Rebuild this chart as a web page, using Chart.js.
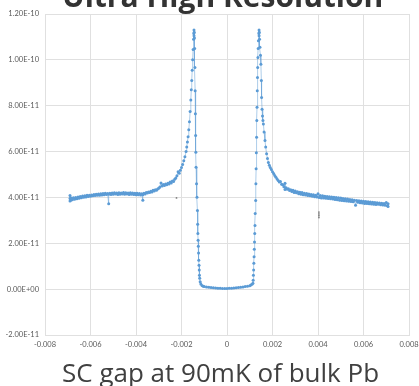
<!DOCTYPE html>
<html>
<head>
<meta charset="utf-8">
<script src="https://cdn.jsdelivr.net/npm/chart.js@4"></script>
<style>
  html, body { margin: 0; padding: 0; background: #fff; overflow: hidden; }
  #wrap { position: relative; width: 419px; height: 386px; }
  #c { position: absolute; left: 0; top: 0; }
  #title { position: absolute; left: 62px; top: -25px; font: bold 30px "Open Sans"; color: #333; white-space: nowrap; }
  #caption { position: absolute; left: 62px; top: 354px; font: 26px "Open Sans"; color: #404040; white-space: nowrap; }
</style>
</head>
<body>
<div id="wrap">
  <canvas id="c" width="419" height="386"></canvas>
  <div id="title">Ultra High Resolution</div>
  <div id="caption">SC gap at 90mK of bulk Pb</div>
</div>
<script>
// bias in mV, current in units of 1e-11 (tick labels convert back)
const xTicks = [-8, -6, -4, -2, 0, 2, 4, 6, 8];
const yTicks = [-2, 0, 2, 4, 6, 8, 10, 12];

// negative bias background + outer side of left coherence peak
const leftBias = [
  -6.90,-6.90,-6.90,-6.87,-6.84,-6.80,-6.75,-6.70,-6.65,-6.60,
  -6.55,-6.50,-6.45,-6.40,-6.35,-6.30,-6.25,-6.20,-6.15,-6.10,
  -6.05,-6.00,-5.95,-5.90,-5.85,-5.80,-5.75,-5.70,-5.65,-5.60,
  -5.55,-5.50,-5.45,-5.40,-5.35,-5.30,-5.25,-5.20,-5.20,-5.15,
  -5.10,-5.05,-5.00,-4.95,-4.90,-4.85,-4.80,-4.75,-4.70,-4.65,
  -4.60,-4.55,-4.50,-4.45,-4.40,-4.35,-4.30,-4.25,-4.20,-4.15,
  -4.10,-4.05,-4.00,-3.95,-3.90,-3.85,-3.80,-3.75,-3.70,-3.70,
  -3.65,-3.60,-3.55,-3.50,-3.45,-3.40,-3.35,-3.30,-3.25,-3.20,
  -3.15,-3.10,-3.05,-3.00,-2.95,-2.90,-2.85,-2.80,-2.75,-2.70,
  -2.65,-2.60,-2.55,-2.50,-2.45,-2.40,-2.35,-2.30,-2.25,-2.20,
  -2.15,-2.10,-2.05,-2.00,-1.95,-1.90,-1.85,-1.80,-1.77,-1.74,
  -1.71,-1.68,-1.65,-1.62,-1.59,-1.57,-1.55,-1.53,-1.51,-1.49,
  -1.47,-1.46,-1.45,-1.45,-1.44,-1.43
];
const leftCurrent = [
  4.08,3.84,3.95,3.88,3.97,3.90,3.99,3.92,4.00,3.94,
  4.02,3.96,4.04,3.99,4.06,4.01,4.07,4.02,4.09,4.04,
  4.10,4.05,4.11,4.07,4.13,4.08,4.14,4.09,4.15,4.10,
  4.16,4.11,4.17,4.12,4.18,4.13,4.17,3.72,4.14,4.18,
  4.13,4.19,4.14,4.20,4.15,4.19,4.13,4.20,4.14,4.19,
  4.15,4.21,4.14,4.20,4.15,4.19,4.13,4.20,4.14,4.19,
  4.13,4.18,4.12,4.18,4.12,4.17,4.11,4.16,3.88,4.12,
  4.18,4.15,4.21,4.19,4.24,4.21,4.27,4.24,4.31,4.28,
  4.34,4.31,4.37,4.40,4.46,4.63,4.50,4.56,4.52,4.59,
  4.55,4.62,4.59,4.67,4.63,4.72,4.69,4.79,4.85,4.95,
  5.12,5.05,5.18,5.30,5.44,5.60,5.77,6.00,6.20,6.42,
  6.65,6.95,7.30,7.75,8.25,8.70,9.10,9.55,10.00,10.45,
  10.90,11.15,11.30,11.05,11.20,10.95
];

// inside the gap: both inner flanks and the flat bottom
const gapBias = [
  -1.42,-1.41,-1.40,-1.39,-1.38,-1.37,-1.36,-1.34,-1.32,-1.30,
  -1.29,-1.28,-1.27,-1.26,-1.25,-1.24,-1.23,-1.22,-1.21,-1.20,
  -1.18,-1.15,-1.10,-1.05,-1.00,-0.90,-0.80,-0.70,-0.60,-0.50,
  -0.40,-0.30,-0.20,-0.10,0.00,0.10,0.20,0.30,0.40,0.50,
  0.60,0.70,0.80,0.90,1.00,1.05,1.10,1.14,1.15,1.16,
  1.17,1.18,1.19,1.20,1.21,1.22,1.23,1.24,1.26,1.27,
  1.28,1.29,1.30,1.31,1.32,1.33,1.34,1.35,1.36,1.37,
  1.38,1.40,1.41,1.41,1.42,1.43
];
const gapCurrent = [
  10.50,9.67,8.65,7.65,6.70,5.97,5.32,4.60,4.01,3.43,
  2.83,2.43,2.13,1.87,1.58,1.26,1.04,0.83,0.61,0.48,
  0.32,0.22,0.16,0.13,0.11,0.09,0.08,0.07,0.06,0.05,
  0.04,0.04,0.03,0.03,0.03,0.04,0.04,0.05,0.06,0.07,
  0.08,0.09,0.11,0.13,0.15,0.18,0.21,0.26,0.39,0.61,
  0.83,1.13,1.41,1.74,2.06,2.43,2.78,3.30,3.87,4.60,
  5.25,5.95,6.62,7.35,7.93,8.65,9.23,9.67,10.10,10.50,
  10.83,11.15,11.30,11.05,11.20,10.90
];

// outer side of right coherence peak + positive bias background
const rightBias = [
  1.45,1.47,1.49,1.51,1.52,1.54,1.56,1.58,1.60,1.63,
  1.67,1.70,1.74,1.78,1.82,1.86,1.90,1.95,2.00,2.05,
  2.10,2.15,2.20,2.25,2.30,2.35,2.40,2.45,2.50,2.55,
  2.55,2.60,2.65,2.70,2.75,2.80,2.85,2.90,2.95,3.00,
  3.05,3.10,3.15,3.20,3.25,3.30,3.35,3.40,3.45,3.50,
  3.55,3.60,3.65,3.70,3.75,3.80,3.85,3.90,3.95,4.00,
  4.05,4.10,4.15,4.20,4.25,4.30,4.35,4.40,4.45,4.50,
  4.55,4.60,4.65,4.70,4.75,4.80,4.85,4.90,4.95,5.00,
  5.05,5.10,5.15,5.20,5.25,5.30,5.35,5.40,5.45,5.50,
  5.55,5.60,5.65,5.70,5.75,5.80,5.85,5.90,5.95,6.00,
  6.05,6.10,6.15,6.20,6.25,6.30,6.35,6.40,6.45,6.50,
  6.55,6.60,6.65,6.70,6.75,6.80,6.85,6.90,6.95,7.00,
  7.05,7.08,7.08
];
const rightCurrent = [
  10.55,10.20,9.81,9.10,8.36,7.85,7.55,7.35,7.20,6.85,
  6.48,6.20,5.90,5.70,5.52,5.40,5.30,5.22,5.12,5.04,
  4.96,4.88,4.80,4.74,4.67,4.69,4.58,4.55,4.47,4.62,
  4.35,4.42,4.36,4.38,4.30,4.34,4.26,4.31,4.22,4.28,
  4.20,4.25,4.16,4.23,4.14,4.21,4.12,4.18,4.11,4.17,
  4.08,4.15,4.07,4.13,4.05,4.12,4.03,4.10,4.02,4.16,
  4.00,4.08,3.98,4.07,3.97,4.05,3.96,4.04,3.95,4.03,
  3.94,4.02,3.93,4.01,3.91,4.00,3.90,3.99,3.88,3.97,
  3.87,3.95,3.86,3.94,3.84,3.93,3.83,3.91,3.82,3.90,
  3.81,3.88,3.66,3.87,3.79,3.86,3.77,3.84,3.76,3.83,
  3.74,3.82,3.73,3.81,3.72,3.80,3.71,3.79,3.70,3.78,
  3.69,3.77,3.70,3.76,3.68,3.75,3.67,3.74,3.66,3.78,
  3.64,3.72,3.60
];

// stray grey marks
const strayBias = [-2.22, 4.04, 4.04, 4.04, 4.04];
const strayCurrent = [3.98, 3.12, 3.20, 3.28, 3.36];

const bias = leftBias.concat(gapBias, rightBias);
const current = leftCurrent.concat(gapCurrent, rightCurrent);
const sweep = bias.map((b, i) => ({ x: b, y: current[i] }));
const stray = strayBias.map((b, i) => ({ x: b, y: strayCurrent[i] }));

function sci(v) {
  let s = (v * 1e-11).toExponential(2);
  s = s.replace(/e([+-])(\d)$/, 'e$10$2');
  return s.toUpperCase();
}

const gridColor = '#e0e0e0';
const tickFont = { family: 'Lato', size: 7.5 };

new Chart(document.getElementById('c'), {
  type: 'scatter',
  data: {
    datasets: [
      {
        data: sweep,
        showLine: true,
        borderColor: 'rgba(91,155,213,0.5)',
        borderWidth: 1,
        pointRadius: 1.5,
        pointBorderWidth: 0,
        pointBackgroundColor: '#5b9bd5'
      },
      {
        data: stray,
        showLine: false,
        pointRadius: 0.9,
        pointBorderWidth: 0,
        pointBackgroundColor: '#7f7f7f'
      }
    ]
  },
  options: {
    responsive: false,
    animation: false,
    layout: { padding: { top: 14, right: 10, left: 0, bottom: 0 } },
    plugins: { legend: { display: false }, tooltip: { enabled: false } },
    scales: {
      x: {
        type: 'linear',
        min: -8, max: 8,
        afterBuildTicks: s => { s.ticks = xTicks.map(v => ({ value: v })); },
        ticks: { callback: v => String(v / 1000), font: tickFont, color: '#595959', padding: 5, maxRotation: 0 },
        grid: { color: gridColor, drawTicks: false },
        border: { color: gridColor },
        afterFit: s => { s.height = 51; s.paddingLeft = 0; s.paddingRight = 0; }
      },
      y: {
        min: -2, max: 12,
        afterBuildTicks: s => { s.ticks = yTicks.map(v => ({ value: v })); },
        ticks: { callback: v => sci(v), font: tickFont, color: '#595959', padding: 6 },
        grid: { color: gridColor, drawTicks: false },
        border: { color: gridColor },
        afterFit: s => { s.width = 45; s.paddingTop = 0; s.paddingBottom = 0; }
      }
    }
  }
});
</script>
</body>
</html>
